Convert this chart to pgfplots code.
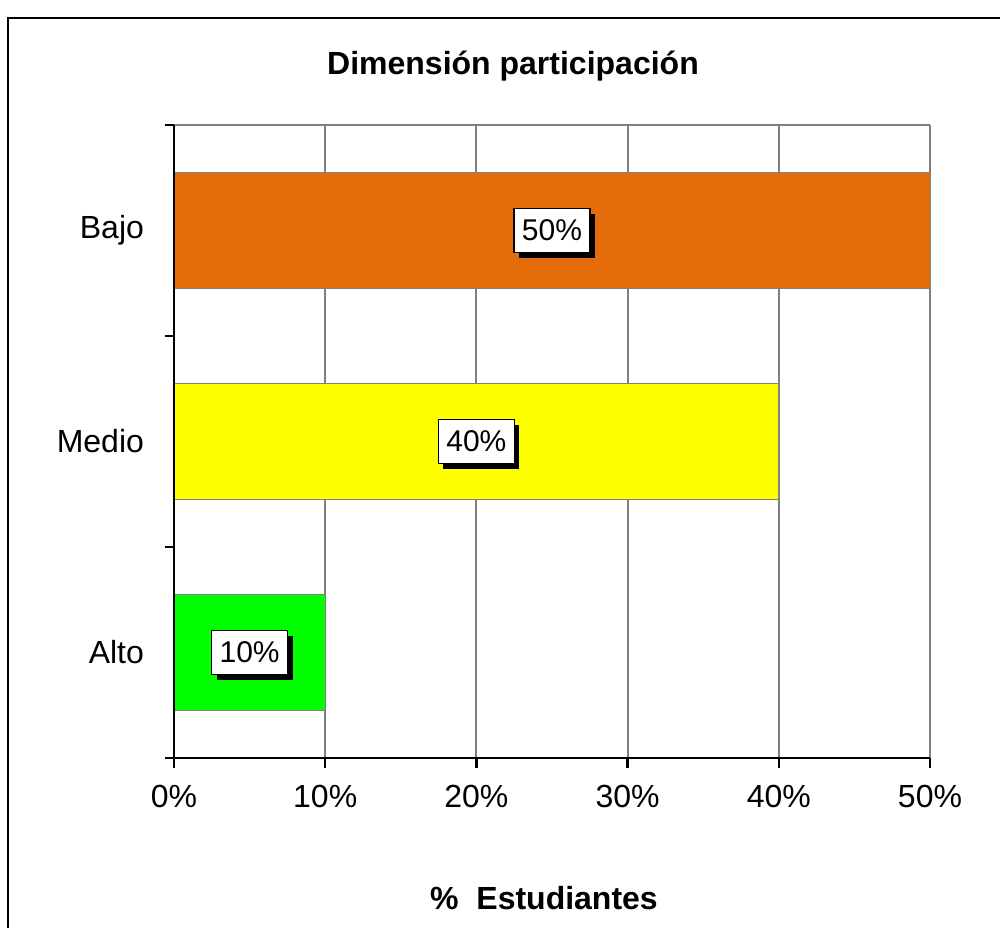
\documentclass[border=0pt]{standalone}
\usepackage{pgfplots}
\pgfplotsset{compat=1.18}
\usepackage{pgfplotstable}
\usepackage{fontspec}
\setmainfont{Liberation Sans}
\usetikzlibrary{shadows}
\definecolor{barorange}{RGB}{228,108,10}
\definecolor{baryellow}{RGB}{255,255,0}
\definecolor{bargreen}{RGB}{0,255,0}
\definecolor{gridgray}{RGB}{128,128,128}
\pgfplotstableread{
y val
0 10
1 40
2 50
}\datatable
\begin{document}
\begin{tikzpicture}
\useasboundingbox (0,0) rectangle (500pt,464pt);
\fill[white] (0,0) rectangle (500pt,464pt);
\draw[black, line width=0.8pt] (4pt,0) -- (4pt,455pt) -- (500pt,455pt);
\node[font=\fontsize{16}{19}\selectfont\bfseries] at (256.5pt,431pt) {Dimensión participación};
\node[font=\fontsize{16}{19}\selectfont\bfseries] at (272pt,15pt) {\%\ \ Estudiantes};
\begin{axis}[
  at={(87pt,85pt)}, anchor=south west,
  scale only axis, width=378pt, height=316.5pt,
  xmin=0, xmax=50, ymin=-0.5, ymax=2.5,
  xtick={0,10,20,30,40,50},
  xticklabel={\pgfmathprintnumber{\tick}\%},
  ytick={0,1,2}, yticklabels={Alto,Medio,Bajo},
  minor ytick={-0.5,0.5,1.5,2.5},
  /pgf/number format/assume math mode=true,
  tick label style={font=\fontsize{16}{19}\selectfont},
  yticklabel style={xshift=-6.5pt},
  xticklabel style={yshift=-5pt},
  axis x line=bottom, axis y line=left,
  axis line style={-, black, line width=1.3pt},
  tick align=outside,
  major tick length=5pt, minor tick length=4.5pt,
  major y tick style={draw=none},
  minor y tick style={black, line width=1.2pt},
  major x tick style={black, line width=1.2pt},
  xmajorgrids, grid style={gridgray, line width=1pt},
  clip=false,
  bar width=0.55,
]
\draw[gridgray, line width=1pt] (rel axis cs:0,1) -- (rel axis cs:1,1);
\addplot[xbar, bar shift=0pt, fill=barorange, draw=gridgray, line width=0.4pt] coordinates {(50,2)};
\addplot[xbar, bar shift=0pt, fill=baryellow, draw=gridgray, line width=0.4pt] coordinates {(40,1)};
\addplot[xbar, bar shift=0pt, fill=bargreen, draw=gridgray, line width=0.4pt] coordinates {(10,0)};
\draw[black, line width=1.3pt] (rel axis cs:0,0) -- (rel axis cs:0,1);
\addplot[draw=none, mark=none,
  nodes near coords={\pgfmathprintnumber{\pgfplotspointmeta}\%},
  nodes near coords align={center},
  every node near coord/.append style={anchor=center, fill=white, draw=black, line width=0.6pt,
     font=\fontsize{15}{18}\selectfont, inner xsep=4pt, minimum height=22pt,
     drop shadow={shadow xshift=2.5pt, shadow yshift=-2.5pt, fill=black, opacity=1}},
  point meta=explicit]
  table[x expr=\thisrow{val}/2, y=y, meta=val] {\datatable};
\end{axis}
\end{tikzpicture}
\end{document}
